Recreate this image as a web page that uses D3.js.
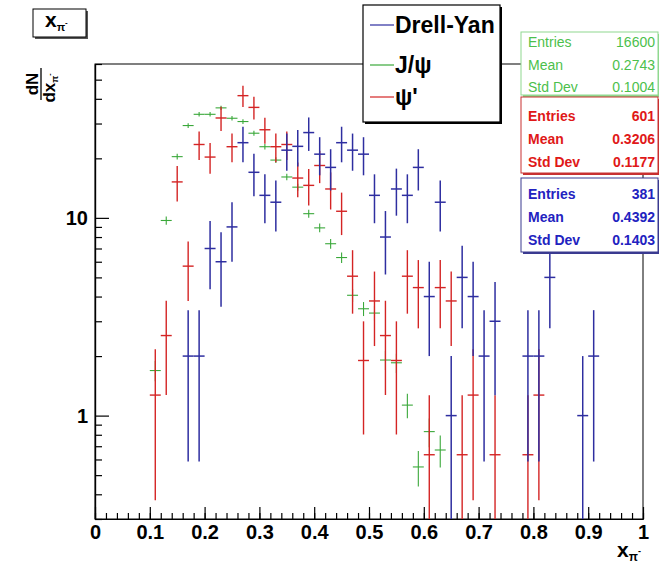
<!DOCTYPE html>
<html>
<head>
<meta charset="utf-8">
<script src="https://cdn.jsdelivr.net/npm/d3@7"></script>
<style>
  html, body { margin: 0; padding: 0; background: #fff; }
  svg { display: block; }
  text { font-family: "Liberation Sans", Arial, Helvetica, sans-serif; }
</style>
</head>
<body>
<svg id="chart" width="659" height="570"></svg>
<script>
// ---- data -------------------------------------------------------------
// bin centres of x_pi (bin width 0.02)
const binCenters = [0.11, 0.13, 0.15, 0.17, 0.19, 0.21, 0.23, 0.25, 0.27, 0.29,
                    0.31, 0.33, 0.35, 0.37, 0.39, 0.41, 0.43, 0.45, 0.47, 0.49,
                    0.51, 0.53, 0.55, 0.57, 0.59, 0.61, 0.63, 0.65, 0.67, 0.69,
                    0.71, 0.73, 0.75, 0.77, 0.79, 0.81, 0.83, 0.85, 0.87, 0.89, 0.91];
const binWidth = 0.02;

// Drell-Yan counts per bin (null = empty bin)
const drellYan = [null, null, null, 2, 2, 7, 6, 9, 24, 17,
                  13, 12, 22, 23, 27, 21, 18, 24, 22, 21,
                  13, 8, 14, 13, 18, 4, 12, 1, 5, 4,
                  2, 3, null, null, 2, 2, 5, null, null, 1, 2];

// J/psi, normalised to the Drell-Yan integral
const jpsi = [1.69, 9.7, 20.4, 29.3, 33.4, 33.4, 36.0, 31.9, 30.7, 26.8,
              22.9, 19.6, 16.1, 14.3, 10.5, 8.9, 7.4, 6.3, 4.06, 3.47,
              3.3, 1.91, 1.85, 1.13, 0.55, 0.83, 0.67, null, null, null,
              null, null, null, null, null, null, null, null, null, null, null];

// psi', normalised to the Drell-Yan integral
const psiPrime = [1.27, 2.54, 15.2, 5.7, 23.5, 20.3, 32.0, 22.9, 41.5, 36.2,
                  27.9, 22.9, 23.5, 15.9, 14.6, 18.4, 14.0, 10.8, 5.07, 1.9,
                  3.8, 2.54, 1.9, 5.07, 4.44, 0.634, 4.44, 3.8, 0.634, 1.27,
                  null, 0.634, null, null, 0.634, 1.27, null, null, null, null, null];

// histogram entries and per-entry weight (normalisation) for the Poisson errors
const entries = { dy: 381, jpsi: 16600, psip: 601 };
const weights = { dy: 1, jpsi: 381 / 16600, psip: 381 / 601 };

// statistics box contents
const statsJpsi = [["Entries", "16600"], ["Mean", "0.2743"], ["Std Dev", "0.1004"]];
const statsPsip = [["Entries", "601"], ["Mean", "0.3206"], ["Std Dev", "0.1177"]];
const statsDY   = [["Entries", "381"], ["Mean", "0.4392"], ["Std Dev", "0.1403"]];

// axis ticks
const xMajorTicks = [0, 0.1, 0.2, 0.3, 0.4, 0.5, 0.6, 0.7, 0.8, 0.9, 1];
const xTickLabels = ["0", "0.1", "0.2", "0.3", "0.4", "0.5", "0.6", "0.7", "0.8", "0.9", "1"];
const xMinorTicks = d3.range(0, 51).map(i => i / 50);
const yMajorTicks = [1, 10];
const yTickLabels = ["1", "10"];
const yMinorTicks = [0.3, 0.4, 0.5, 0.6, 0.7, 0.8, 0.9, 2, 3, 4, 5, 6, 7, 8, 9, 20, 30, 40, 50, 60];

const colors = { dy: "#2e2ea0", jpsi: "#3aa83a", psip: "#d42424" };

// ---- layout -------------------------------------------------------------
const svg = d3.select("#chart");
const frame = { left: 95, right: 643, top: 64, bottom: 519 };

const x = d3.scaleLinear().domain([0, 1]).range([frame.left, frame.right]);
const y = d3.scaleLog().domain([0.3, 60]).range([frame.bottom, frame.top]).clamp(true);

svg.append("rect").attr("width", 659).attr("height", 570).attr("fill", "#fff");

svg.append("defs").append("clipPath").attr("id", "frameClip")
  .append("rect")
  .attr("x", frame.left).attr("y", frame.top)
  .attr("width", frame.right - frame.left).attr("height", frame.bottom - frame.top);

// frame
svg.append("rect")
  .attr("x", frame.left).attr("y", frame.top)
  .attr("width", frame.right - frame.left).attr("height", frame.bottom - frame.top)
  .attr("fill", "none").attr("stroke", "#000").attr("stroke-width", 1);

// ---- histograms with error bars -----------------------------------------
const plot = svg.append("g").attr("clip-path", "url(#frameClip)");

function drawHist(values, w, color, width) {
  const g = plot.append("g").attr("stroke", color).attr("stroke-width", width);
  binCenters.forEach((c, i) => {
    const v = values[i];
    if (v == null) return;
    const err = Math.sqrt(v * w);
    g.append("line")
      .attr("x1", x(c - binWidth / 2)).attr("x2", x(c + binWidth / 2))
      .attr("y1", y(v)).attr("y2", y(v));
    g.append("line")
      .attr("x1", x(c)).attr("x2", x(c))
      .attr("y1", y(v + err))
      .attr("y2", v - err > 0 ? y(v - err) : frame.bottom);
  });
}
drawHist(jpsi, weights.jpsi, colors.jpsi, 1.1);
drawHist(psiPrime, weights.psip, colors.psip, 1.4);
drawHist(drellYan, weights.dy, colors.dy, 1.5);

// ---- axes ----------------------------------------------------------------
const axisFont = "bold 20px 'Liberation Sans', Arial, sans-serif";

const xAxisMajor = svg.append("g")
  .attr("transform", `translate(0,${frame.bottom})`)
  .call(d3.axisBottom(x).tickValues(xMajorTicks)
    .tickFormat((d, i) => xTickLabels[i]).tickSize(-12).tickPadding(6).tickSizeOuter(0));
const xAxisMinor = svg.append("g")
  .attr("transform", `translate(0,${frame.bottom})`)
  .call(d3.axisBottom(x).tickValues(xMinorTicks).tickFormat("").tickSize(-6).tickSizeOuter(0));

const yAxisMajor = svg.append("g")
  .attr("transform", `translate(${frame.left},0)`)
  .call(d3.axisLeft(y).tickValues(yMajorTicks)
    .tickFormat((d, i) => yTickLabels[i]).tickSize(-14).tickPadding(7).tickSizeOuter(0));
const yAxisMinor = svg.append("g")
  .attr("transform", `translate(${frame.left},0)`)
  .call(d3.axisLeft(y).tickValues(yMinorTicks).tickFormat("").tickSize(-7).tickSizeOuter(0));

[xAxisMajor, xAxisMinor, yAxisMajor, yAxisMinor].forEach(a => {
  a.select(".domain").attr("stroke", "#000").attr("stroke-width", 1.2);
  a.selectAll(".tick line").attr("stroke", "#000").attr("stroke-width", 1.2);
  a.selectAll(".tick text")
    .attr("fill", "#000")
    .style("font", axisFont);
});

// x axis title: x_{pi^-}
const xTitle = svg.append("text")
  .attr("x", 617).attr("y", 557)
  .style("font", "bold 21px 'Liberation Sans', Arial, sans-serif");
xTitle.append("tspan").text("x");
xTitle.append("tspan").attr("dy", 4).style("font-size", "12px").text("π");
xTitle.append("tspan").attr("dy", -7).style("font-size", "9px").text("-");

// y axis title: dN / dx_{pi^-}, rotated
const yTitle = svg.append("g").attr("transform", "translate(41,84) rotate(-90)");
yTitle.append("text")
  .attr("x", 0).attr("y", -3).attr("text-anchor", "middle")
  .style("font", "bold 17px 'Liberation Sans', Arial, sans-serif")
  .text("dN");
yTitle.append("line")
  .attr("x1", -16).attr("x2", 16).attr("y1", 0).attr("y2", 0)
  .attr("stroke", "#000").attr("stroke-width", 1.3);
const den = yTitle.append("text")
  .attr("x", -4).attr("y", 14).attr("text-anchor", "middle")
  .style("font", "bold 17px 'Liberation Sans', Arial, sans-serif");
den.append("tspan").text("dx");
den.append("tspan").attr("dy", 3).style("font-size", "9px").text("π");
den.append("tspan").attr("dy", -6).style("font-size", "7px").text("-");

// ---- title box -------------------------------------------------------------
svg.append("rect").attr("x", 35).attr("y", 11).attr("width", 53).attr("height", 28).attr("fill", "#555");
svg.append("rect").attr("x", 33).attr("y", 9).attr("width", 53).attr("height", 28)
  .attr("fill", "#fff").attr("stroke", "#000").attr("stroke-width", 1);
const title = svg.append("text")
  .attr("x", 45).attr("y", 27)
  .style("font", "bold 21px 'Liberation Sans', Arial, sans-serif");
title.append("tspan").text("x");
title.append("tspan").attr("dy", 4).style("font-size", "11px").text("π");
title.append("tspan").attr("dy", -6).style("font-size", "8px").text("-");

// ---- legend ----------------------------------------------------------------
const legendItems = [
  { label: "Drell-Yan", color: colors.dy, y: 25 },
  { label: "J/ψ", color: colors.jpsi, y: 65 },
  { label: "ψ'", color: colors.psip, y: 97 }
];
svg.append("rect").attr("x", 365).attr("y", 7).attr("width", 137).attr("height", 117).attr("fill", "#000");
svg.append("rect").attr("x", 363).attr("y", 5).attr("width", 137).attr("height", 117)
  .attr("fill", "#fff").attr("stroke", "#000").attr("stroke-width", 1.2);
const leg = svg.append("g");
legendItems.forEach(d => {
  leg.append("line")
    .attr("x1", 370).attr("x2", 394).attr("y1", d.y).attr("y2", d.y)
    .attr("stroke", d.color).attr("stroke-width", 1.2);
  leg.append("text")
    .attr("x", 395).attr("y", d.y + 8)
    .style("font", "bold 23px 'Liberation Sans', Arial, sans-serif")
    .attr("fill", "#000")
    .text(d.label);
});

// ---- statistics boxes ------------------------------------------------------
function statsBox(rows, color, border, top, height, rowY, bold) {
  const g = svg.append("g");
  g.append("rect").attr("x", 523).attr("y", top + 2).attr("width", 137).attr("height", height).attr("fill", border);
  g.append("rect").attr("x", 521).attr("y", top).attr("width", 137).attr("height", height)
    .attr("fill", "#fff").attr("stroke", border).attr("stroke-width", 1);
  rows.forEach((r, i) => {
    g.append("text").attr("x", 528).attr("y", rowY[i])
      .style("font", `${bold ? "bold " : ""}14px 'Liberation Sans', Arial, sans-serif`)
      .attr("fill", color).text(r[0]);
    g.append("text").attr("x", 655).attr("y", rowY[i]).attr("text-anchor", "end")
      .style("font", `${bold ? "bold " : ""}14px 'Liberation Sans', Arial, sans-serif`)
      .attr("fill", color).text(r[1]);
  });
}
statsBox(statsJpsi, "#4cbf4c", "#8fd88f", 32, 63, [47, 69.5, 91.5], false);
statsBox(statsPsip, "#e01818", "#c83030", 97, 76, [120.5, 143.5, 166.5], true);
statsBox(statsDY, "#2222c0", "#3a3a90", 178, 74, [198.5, 221.5, 244.5], true);
</script>
</body>
</html>
